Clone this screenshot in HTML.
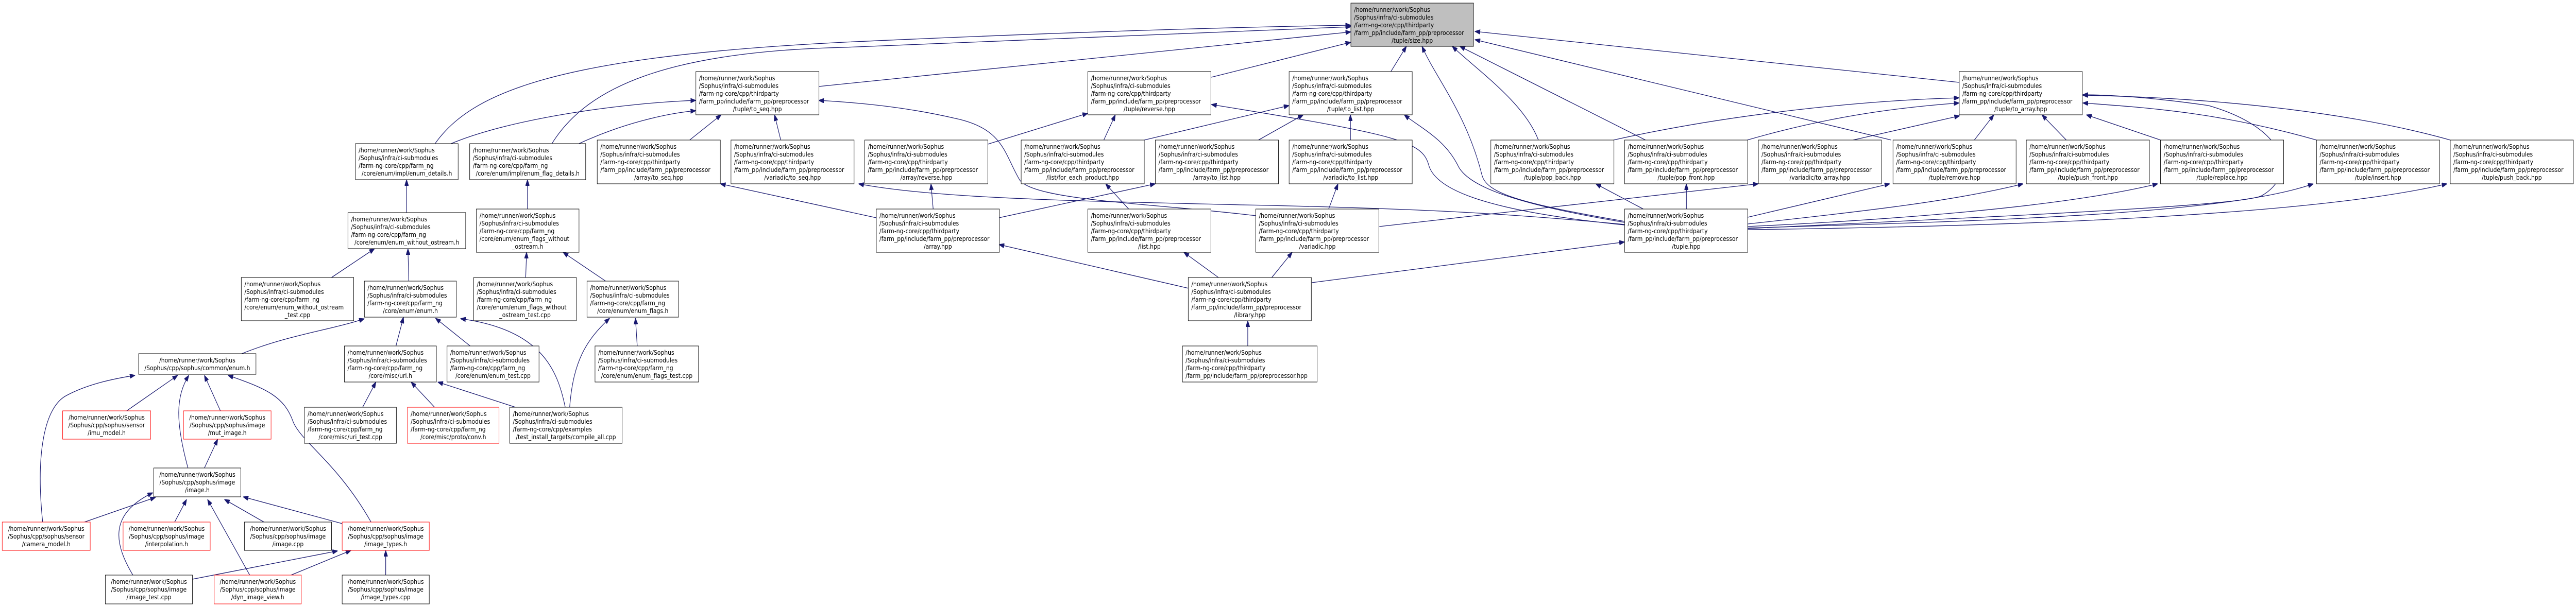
<!DOCTYPE html>
<html><head><meta charset="utf-8"><style>
html,body{margin:0;padding:0;background:#fff;width:100%;height:100%;overflow:hidden;}
svg{display:block;width:100%;height:100%;}
rect{fill:#fff;stroke:#000;stroke-width:1;}
rect.g{fill:#bfbfbf;}
rect.r{stroke:#ff0000;}
text{font-family:"DejaVu Sans","Liberation Sans",sans-serif;font-size:12.6px;fill:#000;}
.m{text-anchor:middle;}
path.e{fill:none;stroke:#191970;stroke-width:1.3;}
</style></head><body>
<svg viewBox="0 0 5797 1179" preserveAspectRatio="none" xmlns="http://www.w3.org/2000/svg">
<defs><marker id="a" markerUnits="userSpaceOnUse" markerWidth="12" markerHeight="9" refX="12" refY="4.5" orient="auto"><path d="M0,0 L12,4.5 L0,9 z" fill="#191970" stroke="#191970"/></marker></defs>
<g marker-end="url(#a)">
<path class="e" d="M979,279 C1060,180 1250,110 1900,82 C2400,62 2800,52 3040,49"/>
<path class="e" d="M1242,279 C1320,170 1500,100 1900,92 C2400,72 2800,58 3040,52"/>
<path class="e" d="M1015,279 C1150,230 1400,200 1566,195"/>
<path class="e" d="M1303,279 C1400,240 1500,220 1566,215"/>
<path class="e" d="M1842,168 L3040,62"/>
<path class="e" d="M1552,272 L1623,223"/>
<path class="e" d="M1757,272 L1743,223"/>
<path class="e" d="M2826,419 C2600,395 2330,390 2295,350 C2260,300 2260,250 2150,230 C2050,210 1950,200 1842,195"/>
<path class="e" d="M3656,436 C3400,415 3200,405 2800,398 C2400,390 2100,385 1932,357"/>
<path class="e" d="M1972,423 L1621,357"/>
<path class="e" d="M2726,150 L3040,82"/>
<path class="e" d="M3130,139 L3165,90"/>
<path class="e" d="M2223,280 L2448,220"/>
<path class="e" d="M2484,272 L2510,223"/>
<path class="e" d="M2575,272 L2901,205"/>
<path class="e" d="M2832,272 L2933,223"/>
<path class="e" d="M3039,272 L3039,223"/>
<path class="e" d="M3656,432 C3400,395 3300,360 3280,320 C3250,270 3200,250 3160,223"/>
<path class="e" d="M3656,437 C3350,410 3230,370 3215,320 C3200,275 3150,262 2726,203"/>
<path class="e" d="M2100,406 L2095,357"/>
<path class="e" d="M2248,423 L2600,357"/>
<path class="e" d="M2540,406 L2488,357"/>
<path class="e" d="M2990,406 L3011,357"/>
<path class="e" d="M3104,440 L3957,357"/>
<path class="e" d="M2675,560 L2248,475"/>
<path class="e" d="M2742,539 L2664,490"/>
<path class="e" d="M2862,539 L2908,490"/>
<path class="e" d="M2952,549 L3656,470"/>
<path class="e" d="M2808,672 L2808,623"/>
<path class="e" d="M3656,430 C3420,395 3345,375 3335,340 C3300,220 3230,150 3200,90"/>
<path class="e" d="M3462,272 C3430,200 3330,140 3268,90"/>
<path class="e" d="M3703,272 L3285,90"/>
<path class="e" d="M4409,160 L3319,61"/>
<path class="e" d="M4256,272 L3319,77"/>
<path class="e" d="M3631,272 C3900,220 4200,195 4409,190"/>
<path class="e" d="M3932,272 C4100,230 4250,210 4409,200"/>
<path class="e" d="M4170,272 L4410,225"/>
<path class="e" d="M4443,272 L4487,223"/>
<path class="e" d="M4650,272 L4595,223"/>
<path class="e" d="M4862,272 L4695,223"/>
<path class="e" d="M5213,272 C5000,220 4850,210 4687,200"/>
<path class="e" d="M5514,272 C5300,220 5000,190 4687,185"/>
<path class="e" d="M3933,444 C4500,420 5050,400 5090,380 C5170,340 5150,250 4970,205 C4850,190 4750,184 4687,184"/>
<path class="e" d="M3698,406 L3591,357"/>
<path class="e" d="M3795,406 L3795,357"/>
<path class="e" d="M3933,422 L4253,357"/>
<path class="e" d="M3933,435 C4200,410 4400,390 4553,357"/>
<path class="e" d="M3933,440 C4300,425 4650,400 4856,357"/>
<path class="e" d="M3933,443 C4400,430 5000,420 5206,357"/>
<path class="e" d="M3933,446 C4500,440 5200,420 5507,357"/>
<path class="e" d="M915,413 L915,349"/>
<path class="e" d="M1187,406 L1187,349"/>
<path class="e" d="M746,539 L843,483"/>
<path class="e" d="M920,546 L918,483"/>
<path class="e" d="M1183,539 L1185,490"/>
<path class="e" d="M1363,546 L1267,490"/>
<path class="e" d="M544,687 C650,650 750,640 820,619"/>
<path class="e" d="M891,672 L908,616"/>
<path class="e" d="M1058,672 L980,618"/>
<path class="e" d="M1272,791 C1255,720 1220,640 1036,619"/>
<path class="e" d="M1160,791 L985,742"/>
<path class="e" d="M1282,791 C1290,700 1320,660 1372,618"/>
<path class="e" d="M1434,672 L1430,618"/>
<path class="e" d="M816,791 L846,742"/>
<path class="e" d="M978,791 L925,742"/>
<path class="e" d="M285,798 L400,729"/>
<path class="e" d="M496,798 L460,729"/>
<path class="e" d="M423,909 C395,820 395,770 425,729"/>
<path class="e" d="M96,1014 C80,880 100,790 150,768 C200,745 260,735 304,729"/>
<path class="e" d="M835,1014 C760,900 680,860 660,820 C640,770 600,755 513,729"/>
<path class="e" d="M460,909 L490,853"/>
<path class="e" d="M190,1014 L350,966"/>
<path class="e" d="M393,1014 L420,970"/>
<path class="e" d="M594,1014 L505,970"/>
<path class="e" d="M770,1017 L547,965"/>
<path class="e" d="M299,1117 C260,1060 240,1000 344,957"/>
<path class="e" d="M562,1117 L467,970"/>
<path class="e" d="M433,1125 L760,1070"/>
<path class="e" d="M655,1117 L790,1069"/>
<path class="e" d="M868,1117 L868,1069"/>
</g>

<g transform="translate(3040,6)"><rect class="g" width="276" height="84"/><text y="17"><tspan x="7">/home/runner/work/Sophus</tspan><tspan x="7" dy="15">/Sophus/infra/ci-submodules</tspan><tspan x="7" dy="15">/farm-ng-core/cpp/thirdparty</tspan><tspan x="7" dy="15">/farm_pp/include/farm_pp/preprocessor</tspan><tspan x="138" dy="15" class="m">/tuple/size.hpp</tspan></text></g>
<g transform="translate(1566,139)"><rect width="277" height="84"/><text y="17"><tspan x="7">/home/runner/work/Sophus</tspan><tspan x="7" dy="15">/Sophus/infra/ci-submodules</tspan><tspan x="7" dy="15">/farm-ng-core/cpp/thirdparty</tspan><tspan x="7" dy="15">/farm_pp/include/farm_pp/preprocessor</tspan><tspan x="138.5" dy="15" class="m">/tuple/to_seq.hpp</tspan></text></g>
<g transform="translate(2448,139)"><rect width="277" height="84"/><text y="17"><tspan x="7">/home/runner/work/Sophus</tspan><tspan x="7" dy="15">/Sophus/infra/ci-submodules</tspan><tspan x="7" dy="15">/farm-ng-core/cpp/thirdparty</tspan><tspan x="7" dy="15">/farm_pp/include/farm_pp/preprocessor</tspan><tspan x="138.5" dy="15" class="m">/tuple/reverse.hpp</tspan></text></g>
<g transform="translate(2901,139)"><rect width="277" height="84"/><text y="17"><tspan x="7">/home/runner/work/Sophus</tspan><tspan x="7" dy="15">/Sophus/infra/ci-submodules</tspan><tspan x="7" dy="15">/farm-ng-core/cpp/thirdparty</tspan><tspan x="7" dy="15">/farm_pp/include/farm_pp/preprocessor</tspan><tspan x="138.5" dy="15" class="m">/tuple/to_list.hpp</tspan></text></g>
<g transform="translate(4409,139)"><rect width="277" height="84"/><text y="17"><tspan x="7">/home/runner/work/Sophus</tspan><tspan x="7" dy="15">/Sophus/infra/ci-submodules</tspan><tspan x="7" dy="15">/farm-ng-core/cpp/thirdparty</tspan><tspan x="7" dy="15">/farm_pp/include/farm_pp/preprocessor</tspan><tspan x="138.5" dy="15" class="m">/tuple/to_array.hpp</tspan></text></g>

<g transform="translate(1344,272)"><rect width="277" height="85"/><text y="17"><tspan x="7">/home/runner/work/Sophus</tspan><tspan x="7" dy="15">/Sophus/infra/ci-submodules</tspan><tspan x="7" dy="15">/farm-ng-core/cpp/thirdparty</tspan><tspan x="7" dy="15">/farm_pp/include/farm_pp/preprocessor</tspan><tspan x="138.5" dy="15" class="m">/array/to_seq.hpp</tspan></text></g>
<g transform="translate(1645,272)"><rect width="277" height="85"/><text y="17"><tspan x="7">/home/runner/work/Sophus</tspan><tspan x="7" dy="15">/Sophus/infra/ci-submodules</tspan><tspan x="7" dy="15">/farm-ng-core/cpp/thirdparty</tspan><tspan x="7" dy="15">/farm_pp/include/farm_pp/preprocessor</tspan><tspan x="138.5" dy="15" class="m">/variadic/to_seq.hpp</tspan></text></g>
<g transform="translate(1946,272)"><rect width="277" height="85"/><text y="17"><tspan x="7">/home/runner/work/Sophus</tspan><tspan x="7" dy="15">/Sophus/infra/ci-submodules</tspan><tspan x="7" dy="15">/farm-ng-core/cpp/thirdparty</tspan><tspan x="7" dy="15">/farm_pp/include/farm_pp/preprocessor</tspan><tspan x="138.5" dy="15" class="m">/array/reverse.hpp</tspan></text></g>
<g transform="translate(2298,272)"><rect width="277" height="85"/><text y="17"><tspan x="7">/home/runner/work/Sophus</tspan><tspan x="7" dy="15">/Sophus/infra/ci-submodules</tspan><tspan x="7" dy="15">/farm-ng-core/cpp/thirdparty</tspan><tspan x="7" dy="15">/farm_pp/include/farm_pp/preprocessor</tspan><tspan x="138.5" dy="15" class="m">/list/for_each_product.hpp</tspan></text></g>
<g transform="translate(2600,272)"><rect width="277" height="85"/><text y="17"><tspan x="7">/home/runner/work/Sophus</tspan><tspan x="7" dy="15">/Sophus/infra/ci-submodules</tspan><tspan x="7" dy="15">/farm-ng-core/cpp/thirdparty</tspan><tspan x="7" dy="15">/farm_pp/include/farm_pp/preprocessor</tspan><tspan x="138.5" dy="15" class="m">/array/to_list.hpp</tspan></text></g>
<g transform="translate(2901,272)"><rect width="277" height="85"/><text y="17"><tspan x="7">/home/runner/work/Sophus</tspan><tspan x="7" dy="15">/Sophus/infra/ci-submodules</tspan><tspan x="7" dy="15">/farm-ng-core/cpp/thirdparty</tspan><tspan x="7" dy="15">/farm_pp/include/farm_pp/preprocessor</tspan><tspan x="138.5" dy="15" class="m">/variadic/to_list.hpp</tspan></text></g>
<g transform="translate(3355,272)"><rect width="277" height="85"/><text y="17"><tspan x="7">/home/runner/work/Sophus</tspan><tspan x="7" dy="15">/Sophus/infra/ci-submodules</tspan><tspan x="7" dy="15">/farm-ng-core/cpp/thirdparty</tspan><tspan x="7" dy="15">/farm_pp/include/farm_pp/preprocessor</tspan><tspan x="138.5" dy="15" class="m">/tuple/pop_back.hpp</tspan></text></g>
<g transform="translate(3656,272)"><rect width="277" height="85"/><text y="17"><tspan x="7">/home/runner/work/Sophus</tspan><tspan x="7" dy="15">/Sophus/infra/ci-submodules</tspan><tspan x="7" dy="15">/farm-ng-core/cpp/thirdparty</tspan><tspan x="7" dy="15">/farm_pp/include/farm_pp/preprocessor</tspan><tspan x="138.5" dy="15" class="m">/tuple/pop_front.hpp</tspan></text></g>
<g transform="translate(3957,272)"><rect width="277" height="85"/><text y="17"><tspan x="7">/home/runner/work/Sophus</tspan><tspan x="7" dy="15">/Sophus/infra/ci-submodules</tspan><tspan x="7" dy="15">/farm-ng-core/cpp/thirdparty</tspan><tspan x="7" dy="15">/farm_pp/include/farm_pp/preprocessor</tspan><tspan x="138.5" dy="15" class="m">/variadic/to_array.hpp</tspan></text></g>
<g transform="translate(4260,272)"><rect width="277" height="85"/><text y="17"><tspan x="7">/home/runner/work/Sophus</tspan><tspan x="7" dy="15">/Sophus/infra/ci-submodules</tspan><tspan x="7" dy="15">/farm-ng-core/cpp/thirdparty</tspan><tspan x="7" dy="15">/farm_pp/include/farm_pp/preprocessor</tspan><tspan x="138.5" dy="15" class="m">/tuple/remove.hpp</tspan></text></g>
<g transform="translate(4560,272)"><rect width="277" height="85"/><text y="17"><tspan x="7">/home/runner/work/Sophus</tspan><tspan x="7" dy="15">/Sophus/infra/ci-submodules</tspan><tspan x="7" dy="15">/farm-ng-core/cpp/thirdparty</tspan><tspan x="7" dy="15">/farm_pp/include/farm_pp/preprocessor</tspan><tspan x="138.5" dy="15" class="m">/tuple/push_front.hpp</tspan></text></g>
<g transform="translate(4862,272)"><rect width="277" height="85"/><text y="17"><tspan x="7">/home/runner/work/Sophus</tspan><tspan x="7" dy="15">/Sophus/infra/ci-submodules</tspan><tspan x="7" dy="15">/farm-ng-core/cpp/thirdparty</tspan><tspan x="7" dy="15">/farm_pp/include/farm_pp/preprocessor</tspan><tspan x="138.5" dy="15" class="m">/tuple/replace.hpp</tspan></text></g>
<g transform="translate(5213,272)"><rect width="277" height="85"/><text y="17"><tspan x="7">/home/runner/work/Sophus</tspan><tspan x="7" dy="15">/Sophus/infra/ci-submodules</tspan><tspan x="7" dy="15">/farm-ng-core/cpp/thirdparty</tspan><tspan x="7" dy="15">/farm_pp/include/farm_pp/preprocessor</tspan><tspan x="138.5" dy="15" class="m">/tuple/insert.hpp</tspan></text></g>
<g transform="translate(5514,272)"><rect width="277" height="85"/><text y="17"><tspan x="7">/home/runner/work/Sophus</tspan><tspan x="7" dy="15">/Sophus/infra/ci-submodules</tspan><tspan x="7" dy="15">/farm-ng-core/cpp/thirdparty</tspan><tspan x="7" dy="15">/farm_pp/include/farm_pp/preprocessor</tspan><tspan x="138.5" dy="15" class="m">/tuple/push_back.hpp</tspan></text></g>

<g transform="translate(1972,406)"><rect width="277" height="84"/><text y="17"><tspan x="7">/home/runner/work/Sophus</tspan><tspan x="7" dy="15">/Sophus/infra/ci-submodules</tspan><tspan x="7" dy="15">/farm-ng-core/cpp/thirdparty</tspan><tspan x="7" dy="15">/farm_pp/include/farm_pp/preprocessor</tspan><tspan x="138.5" dy="15" class="m">/array.hpp</tspan></text></g>
<g transform="translate(2448,406)"><rect width="277" height="84"/><text y="17"><tspan x="7">/home/runner/work/Sophus</tspan><tspan x="7" dy="15">/Sophus/infra/ci-submodules</tspan><tspan x="7" dy="15">/farm-ng-core/cpp/thirdparty</tspan><tspan x="7" dy="15">/farm_pp/include/farm_pp/preprocessor</tspan><tspan x="138.5" dy="15" class="m">/list.hpp</tspan></text></g>
<g transform="translate(2826,406)"><rect width="277" height="84"/><text y="17"><tspan x="7">/home/runner/work/Sophus</tspan><tspan x="7" dy="15">/Sophus/infra/ci-submodules</tspan><tspan x="7" dy="15">/farm-ng-core/cpp/thirdparty</tspan><tspan x="7" dy="15">/farm_pp/include/farm_pp/preprocessor</tspan><tspan x="138.5" dy="15" class="m">/variadic.hpp</tspan></text></g>
<g transform="translate(3656,406)"><rect width="277" height="84"/><text y="17"><tspan x="7">/home/runner/work/Sophus</tspan><tspan x="7" dy="15">/Sophus/infra/ci-submodules</tspan><tspan x="7" dy="15">/farm-ng-core/cpp/thirdparty</tspan><tspan x="7" dy="15">/farm_pp/include/farm_pp/preprocessor</tspan><tspan x="138.5" dy="15" class="m">/tuple.hpp</tspan></text></g>
<g transform="translate(2674,539)"><rect width="277" height="84"/><text y="17"><tspan x="7">/home/runner/work/Sophus</tspan><tspan x="7" dy="15">/Sophus/infra/ci-submodules</tspan><tspan x="7" dy="15">/farm-ng-core/cpp/thirdparty</tspan><tspan x="7" dy="15">/farm_pp/include/farm_pp/preprocessor</tspan><tspan x="138.5" dy="15" class="m">/library.hpp</tspan></text></g>
<g transform="translate(2661,672)"><rect width="303" height="70"/><text y="17"><tspan x="7">/home/runner/work/Sophus</tspan><tspan x="7" dy="15">/Sophus/infra/ci-submodules</tspan><tspan x="7" dy="15">/farm-ng-core/cpp/thirdparty</tspan><tspan x="7" dy="15">/farm_pp/include/farm_pp/preprocessor.hpp</tspan></text></g>

<g transform="translate(800,279)"><rect width="231" height="70"/><text y="17"><tspan x="7">/home/runner/work/Sophus</tspan><tspan x="7" dy="15">/Sophus/infra/ci-submodules</tspan><tspan x="7" dy="15">/farm-ng-core/cpp/farm_ng</tspan><tspan x="115.5" dy="15" class="m">/core/enum/impl/enum_details.h</tspan></text></g>
<g transform="translate(1057,279)"><rect width="261" height="70"/><text y="17"><tspan x="7">/home/runner/work/Sophus</tspan><tspan x="7" dy="15">/Sophus/infra/ci-submodules</tspan><tspan x="7" dy="15">/farm-ng-core/cpp/farm_ng</tspan><tspan x="130.5" dy="15" class="m">/core/enum/impl/enum_flag_details.h</tspan></text></g>
<g transform="translate(783,413)"><rect width="265" height="70"/><text y="17"><tspan x="7">/home/runner/work/Sophus</tspan><tspan x="7" dy="15">/Sophus/infra/ci-submodules</tspan><tspan x="7" dy="15">/farm-ng-core/cpp/farm_ng</tspan><tspan x="132.5" dy="15" class="m">/core/enum/enum_without_ostream.h</tspan></text></g>
<g transform="translate(1072,406)"><rect width="231" height="84"/><text y="17"><tspan x="7">/home/runner/work/Sophus</tspan><tspan x="7" dy="15">/Sophus/infra/ci-submodules</tspan><tspan x="7" dy="15">/farm-ng-core/cpp/farm_ng</tspan><tspan x="7" dy="15">/core/enum/enum_flags_without</tspan><tspan x="115.5" dy="15" class="m">_ostream.h</tspan></text></g>
<g transform="translate(543,539)"><rect width="253" height="84"/><text y="17"><tspan x="7">/home/runner/work/Sophus</tspan><tspan x="7" dy="15">/Sophus/infra/ci-submodules</tspan><tspan x="7" dy="15">/farm-ng-core/cpp/farm_ng</tspan><tspan x="7" dy="15">/core/enum/enum_without_ostream</tspan><tspan x="126.5" dy="15" class="m">_test.cpp</tspan></text></g>
<g transform="translate(820,546)"><rect width="207" height="70"/><text y="17"><tspan x="7">/home/runner/work/Sophus</tspan><tspan x="7" dy="15">/Sophus/infra/ci-submodules</tspan><tspan x="7" dy="15">/farm-ng-core/cpp/farm_ng</tspan><tspan x="103.5" dy="15" class="m">/core/enum/enum.h</tspan></text></g>
<g transform="translate(1066,539)"><rect width="231" height="84"/><text y="17"><tspan x="7">/home/runner/work/Sophus</tspan><tspan x="7" dy="15">/Sophus/infra/ci-submodules</tspan><tspan x="7" dy="15">/farm-ng-core/cpp/farm_ng</tspan><tspan x="7" dy="15">/core/enum/enum_flags_without</tspan><tspan x="115.5" dy="15" class="m">_ostream_test.cpp</tspan></text></g>
<g transform="translate(1321,546)"><rect width="206" height="70"/><text y="17"><tspan x="7">/home/runner/work/Sophus</tspan><tspan x="7" dy="15">/Sophus/infra/ci-submodules</tspan><tspan x="7" dy="15">/farm-ng-core/cpp/farm_ng</tspan><tspan x="103" dy="15" class="m">/core/enum/enum_flags.h</tspan></text></g>
<g transform="translate(775,672)"><rect width="207" height="70"/><text y="17"><tspan x="7">/home/runner/work/Sophus</tspan><tspan x="7" dy="15">/Sophus/infra/ci-submodules</tspan><tspan x="7" dy="15">/farm-ng-core/cpp/farm_ng</tspan><tspan x="103.5" dy="15" class="m">/core/misc/uri.h</tspan></text></g>
<g transform="translate(1006,672)"><rect width="207" height="70"/><text y="17"><tspan x="7">/home/runner/work/Sophus</tspan><tspan x="7" dy="15">/Sophus/infra/ci-submodules</tspan><tspan x="7" dy="15">/farm-ng-core/cpp/farm_ng</tspan><tspan x="103.5" dy="15" class="m">/core/enum/enum_test.cpp</tspan></text></g>
<g transform="translate(1339,672)"><rect width="233" height="70"/><text y="17"><tspan x="7">/home/runner/work/Sophus</tspan><tspan x="7" dy="15">/Sophus/infra/ci-submodules</tspan><tspan x="7" dy="15">/farm-ng-core/cpp/farm_ng</tspan><tspan x="116.5" dy="15" class="m">/core/enum/enum_flags_test.cpp</tspan></text></g>
<g transform="translate(685,791)"><rect width="207" height="70"/><text y="17"><tspan x="7">/home/runner/work/Sophus</tspan><tspan x="7" dy="15">/Sophus/infra/ci-submodules</tspan><tspan x="7" dy="15">/farm-ng-core/cpp/farm_ng</tspan><tspan x="103.5" dy="15" class="m">/core/misc/uri_test.cpp</tspan></text></g>
<g transform="translate(917,791)"><rect class="r" width="206" height="70"/><text y="17"><tspan x="7">/home/runner/work/Sophus</tspan><tspan x="7" dy="15">/Sophus/infra/ci-submodules</tspan><tspan x="7" dy="15">/farm-ng-core/cpp/farm_ng</tspan><tspan x="103" dy="15" class="m">/core/misc/proto/conv.h</tspan></text></g>
<g transform="translate(1147,791)"><rect width="253" height="70"/><text y="17"><tspan x="7">/home/runner/work/Sophus</tspan><tspan x="7" dy="15">/Sophus/infra/ci-submodules</tspan><tspan x="7" dy="15">/farm-ng-core/cpp/examples</tspan><tspan x="126.5" dy="15" class="m">/test_install_targets/compile_all.cpp</tspan></text></g>

<g transform="translate(312,687)"><rect width="264" height="40"/><text y="17" class="m"><tspan x="132">/home/runner/work/Sophus</tspan><tspan x="132" dy="15">/Sophus/cpp/sophus/common/enum.h</tspan></text></g>
<g transform="translate(141,798)"><rect class="r" width="198" height="55"/><text y="17" class="m"><tspan x="99">/home/runner/work/Sophus</tspan><tspan x="99" dy="15">/Sophus/cpp/sophus/sensor</tspan><tspan x="99" dy="15">/imu_model.h</tspan></text></g>
<g transform="translate(413,798)"><rect class="r" width="197" height="55"/><text y="17" class="m"><tspan x="98.5">/home/runner/work/Sophus</tspan><tspan x="98.5" dy="15">/Sophus/cpp/sophus/image</tspan><tspan x="98.5" dy="15">/mut_image.h</tspan></text></g>
<g transform="translate(346,909)"><rect width="196" height="56"/><text y="17" class="m"><tspan x="98">/home/runner/work/Sophus</tspan><tspan x="98" dy="15">/Sophus/cpp/sophus/image</tspan><tspan x="98" dy="15">/image.h</tspan></text></g>
<g transform="translate(5,1014)"><rect class="r" width="198" height="55"/><text y="17" class="m"><tspan x="99">/home/runner/work/Sophus</tspan><tspan x="99" dy="15">/Sophus/cpp/sophus/sensor</tspan><tspan x="99" dy="15">/camera_model.h</tspan></text></g>
<g transform="translate(277,1014)"><rect class="r" width="196" height="55"/><text y="17" class="m"><tspan x="98">/home/runner/work/Sophus</tspan><tspan x="98" dy="15">/Sophus/cpp/sophus/image</tspan><tspan x="98" dy="15">/interpolation.h</tspan></text></g>
<g transform="translate(550,1014)"><rect width="196" height="55"/><text y="17" class="m"><tspan x="98">/home/runner/work/Sophus</tspan><tspan x="98" dy="15">/Sophus/cpp/sophus/image</tspan><tspan x="98" dy="15">/image.cpp</tspan></text></g>
<g transform="translate(770,1014)"><rect class="r" width="196" height="55"/><text y="17" class="m"><tspan x="98">/home/runner/work/Sophus</tspan><tspan x="98" dy="15">/Sophus/cpp/sophus/image</tspan><tspan x="98" dy="15">/image_types.h</tspan></text></g>
<g transform="translate(237,1117)"><rect width="196" height="56"/><text y="17" class="m"><tspan x="98">/home/runner/work/Sophus</tspan><tspan x="98" dy="15">/Sophus/cpp/sophus/image</tspan><tspan x="98" dy="15">/image_test.cpp</tspan></text></g>
<g transform="translate(482,1117)"><rect class="r" width="196" height="56"/><text y="17" class="m"><tspan x="98">/home/runner/work/Sophus</tspan><tspan x="98" dy="15">/Sophus/cpp/sophus/image</tspan><tspan x="98" dy="15">/dyn_image_view.h</tspan></text></g>
<g transform="translate(770,1117)"><rect width="196" height="56"/><text y="17" class="m"><tspan x="98">/home/runner/work/Sophus</tspan><tspan x="98" dy="15">/Sophus/cpp/sophus/image</tspan><tspan x="98" dy="15">/image_types.cpp</tspan></text></g>
</svg>
</body></html>
